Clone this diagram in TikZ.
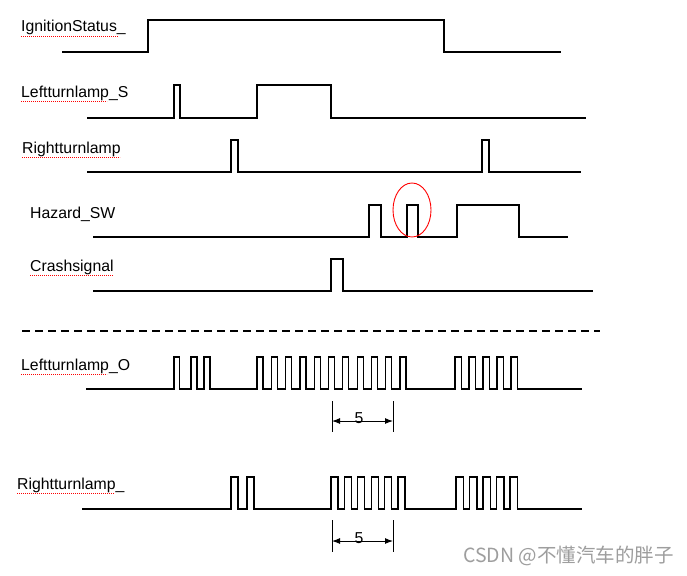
\documentclass[tikz,border=0pt]{standalone}
\usepackage{fontspec}
\setmainfont{Liberation Sans}
\newfontfamily\cjkfont{Noto Sans CJK SC}
\usetikzlibrary{arrows.meta,shapes.geometric}
\begin{document}
\begin{tikzpicture}[x=1pt,y=-1pt,
  sig/.style={line width=1.2pt, line join=miter},
  lab/.style={anchor=base west, inner sep=0pt, font=\fontsize{15.8}{18}\selectfont},
  spell/.style={red, line width=0.7pt, dash pattern=on 0.7pt off 1.3pt},
  dimline/.style={line width=0.9pt},
  dimarrow/.style={line width=1pt, {Latex[length=8pt,width=6pt]}-{Latex[length=8pt,width=6pt]}},
  sepline/.style={line width=1.6pt, dash pattern=on 8pt off 5pt},
  mark5/.style={anchor=base, inner sep=0pt, font=\fontsize{15.8}{18}\selectfont},
]
\useasboundingbox[fill=white] (0,0) rectangle (687,575);

% labels
\node[lab] (l1) at (21,32) {IgnitionStatus\_};
\node[lab] (l2) at (21,97.5) {Leftturnlamp\_S};
\node[lab] (l3) at (22,153) {Rightturnlamp};
\node[lab] (l4) at (30,218) {Hazard\_SW};
\node[lab] (l5) at (30,271.5) {Crashsignal};
\node[lab] (l6) at (21,370.5) {Leftturnlamp\_O};
\node[lab] (l7) at (17,489.5) {Rightturnlamp\_};

% spell-check underlines
\draw[spell] (21,36) -- (118,36);
\draw[spell] (21,101.5) -- (107,101.5);
\draw[spell] (22,157) -- (120,157);
\draw[spell] (30,275.5) -- (113,275.5);
\draw[spell] (21,374.5) -- (107,374.5);
\draw[spell] (17,493.5) -- (114,493.5);

% IgnitionStatus_
\draw[sig] (62,52) -- (148,52) -- (148,20) -- (444,20) -- (444,52) -- (561,52);
% Leftturnlamp_S
\draw[sig] (87,118) -- (174,118) -- (174,85) -- (180,85) -- (180,118) -- (257,118) -- (257,85) -- (331,85) -- (331,118) -- (586,118);
% Rightturnlamp
\draw[sig] (87,172) -- (231,172) -- (231,140) -- (238,140) -- (238,172) -- (482,172) -- (482,140) -- (489,140) -- (489,172) -- (581,172);
% Hazard_SW
\draw[sig] (93,237) -- (369,237) -- (369,205) -- (381,205) -- (381,237) -- (407,237) -- (407,205) -- (418,205) -- (418,237) -- (457,237) -- (457,205) -- (519,205) -- (519,237) -- (568,237);
\node[draw=red, line width=0.9pt, ellipse, minimum width=38pt, minimum height=54pt, inner sep=0pt] (circ) at (412,210) {};
% Crashsignal
\draw[sig] (93,291) -- (331,291) -- (331,259) -- (343,259) -- (343,291) -- (593,291);

% separator
\draw[sepline] (22,331) -- (600,331);

% Leftturnlamp_O
\draw[sig] (86,389)
  foreach \x/\w in {174/5.5, 191/6, 204/6, 257/6, 271.3/6, 285.6/6, 299.9/6, 314.2/6, 328.5/6, 342.8/6, 357.1/6, 371.4/6, 385.7/6, 400/6, 455/6.5, 469/6.5, 483/6.5, 497/6.5, 511/6.5}
  { -- (\x,389) -- (\x,357) -- (\x+\w,357) -- (\x+\w,389) } -- (582,389);

% Rightturnlamp_
\draw[sig] (82,509)
  foreach \x/\w in {231/7, 247/7, 331/7, 344.4/7, 357.8/7, 371.2/7, 384.6/7, 398/7, 456/7.5, 469.5/7.5, 483/7.5, 496.5/7.5, 510/7.5}
  { -- (\x,509) -- (\x,477) -- (\x+\w,477) -- (\x+\w,509) } -- (582,509);

% dimension 1
\coordinate (a1) at (332,401); \coordinate (a2) at (332,432);
\coordinate (b1) at (393,401); \coordinate (b2) at (393,432);
\coordinate (a3) at (332,421); \coordinate (b3) at (393,421);
\draw[dimline] (a1) -- (a2);
\draw[dimline] (b1) -- (b2);
\draw[dimarrow] (a3) -- (b3);
\node[mark5] (n5a) at (359,423) {5};

% dimension 2
\coordinate (c1) at (332,520); \coordinate (c2) at (332,552);
\coordinate (e1) at (393,520); \coordinate (e2) at (393,552);
\coordinate (c3) at (332,541); \coordinate (e3) at (393,541);
\draw[dimline] (c1) -- (c2);
\draw[dimline] (e1) -- (e2);
\draw[dimarrow] (c3) -- (e3);
\node[mark5] (n5b) at (359,543) {5};

% watermark
\node[anchor=west, inner sep=0pt, text=black!38, font=\cjkfont\fontsize{19.5}{22}\selectfont] (wm) at (463,556) {CSDN @不懂汽车的胖子};
\end{tikzpicture}
\end{document}
